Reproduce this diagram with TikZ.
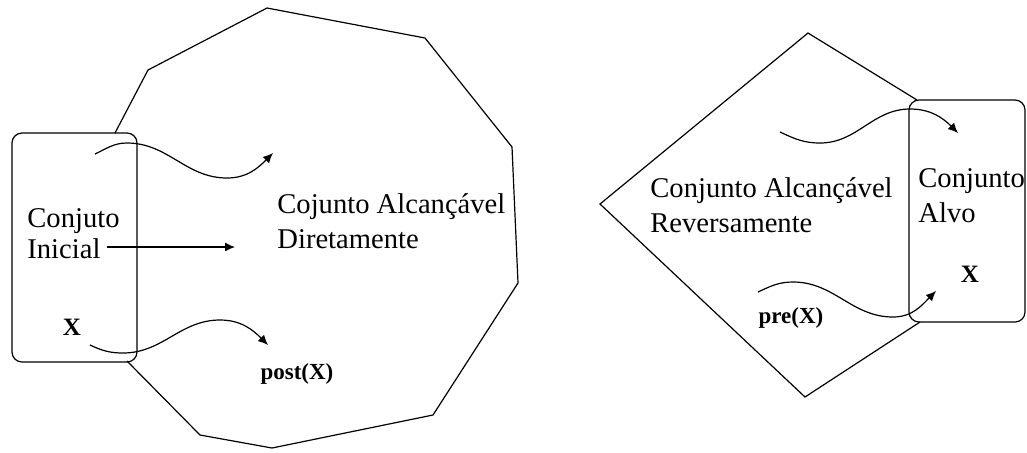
\documentclass[tikz,border=0pt]{standalone}
\usepackage{fontspec}
\setmainfont{Liberation Serif}
\usetikzlibrary{arrows.meta, positioning}
\tikzset{
  setbox/.style={draw, rounded corners=5pt, line width=0.6pt, inner sep=0pt},
  lbl/.style={align=left, inner sep=0pt, anchor=base west,
    font=\fontsize{14.3}{15.5}\selectfont},
  lblwide/.style={lbl, font=\fontsize{14.3}{17.2}\selectfont},
  elem/.style={inner sep=0pt, font=\fontsize{11.5}{13}\selectfont\bfseries},
  region/.style={line width=0.6pt, line join=miter},
  wave/.style={-{Latex[length=5pt,width=4.5pt]}, line width=0.6pt}
}

\begin{document}
\begin{tikzpicture}[x=0.5pt, y=0.5pt]
  \useasboundingbox (0,0) rectangle (1027,-452);

  % conjunto inicial e alcancavel diretamente
  \node[setbox, minimum width=62.5pt, minimum height=114.5pt] (ini) at (74.5,-247.5) {};
  \draw[region] (115,-133) -- (148,-70) -- (267,-8) -- (425,-38) -- (512,-147)
    -- (518,-283) -- (433,-415) -- (272,-448) -- (200,-435) -- (127,-361);
  \node[lbl] (iniLbl) at (27,-258) {Conjuto\\Inicial};
  \node[lblwide] (postLbl) at (277,-248) {Cojunto Alcançável\\Diretamente};
  \node[elem, font=\fontsize{12.5}{14}\selectfont\bfseries] (xIni) at (72,-327) {X};
  \node[elem] (post) at (297,-374) {post(X)};

  \coordinate (t0) at (95,-154);  \coordinate (t1) at (127,-143);
  \coordinate (t2) at (227,-178); \coordinate (t3) at (273,-153);
  \coordinate (b0) at (90,-345);  \coordinate (b1) at (123,-353);
  \coordinate (b2) at (220,-320); \coordinate (b3) at (268,-345);
  \coordinate (s0) at (107,-247); \coordinate (s1) at (235,-247);
  \draw[wave] (t0) to[out=25,in=180] (t1) to[out=0,in=180] (t2) to[out=0,in=-135] (t3);
  \draw[wave] (b0) to[out=-25,in=180] (b1) to[out=0,in=180] (b2) to[out=0,in=135] (b3);
  \draw[wave] (s0) -- (s1);

  % conjunto alvo e alcancavel reversamente
  \node[setbox, minimum width=58pt, minimum height=111pt] (tgt) at (967,-211) {};
  \draw[region] (917,-100) -- (808,-33) -- (600,-204) -- (805,-397) -- (920,-322);
  \node[lblwide] (preLbl) at (650,-232) {Conjunto Alcançável\\Reversamente};
  \node[lblwide] (tgtLbl) at (918,-222) {Conjunto\\Alvo};
  \node[elem, font=\fontsize{12.5}{14}\selectfont\bfseries] (xTgt) at (970,-274) {X};
  \node[elem] (pre) at (791,-318) {pre(X)};

  \coordinate (r0) at (780,-132); \coordinate (r1) at (820,-143);
  \coordinate (r2) at (910,-109); \coordinate (r3) at (958,-133);
  \coordinate (q0) at (758,-292); \coordinate (q1) at (793,-282);
  \coordinate (q2) at (893,-317); \coordinate (q3) at (936,-291);
  \draw[wave] (r0) to[out=-25,in=180] (r1) to[out=0,in=180] (r2) to[out=0,in=135] (r3);
  \draw[wave] (q0) to[out=25,in=180] (q1) to[out=0,in=180] (q2) to[out=0,in=-135] (q3);
\end{tikzpicture}
\end{document}
